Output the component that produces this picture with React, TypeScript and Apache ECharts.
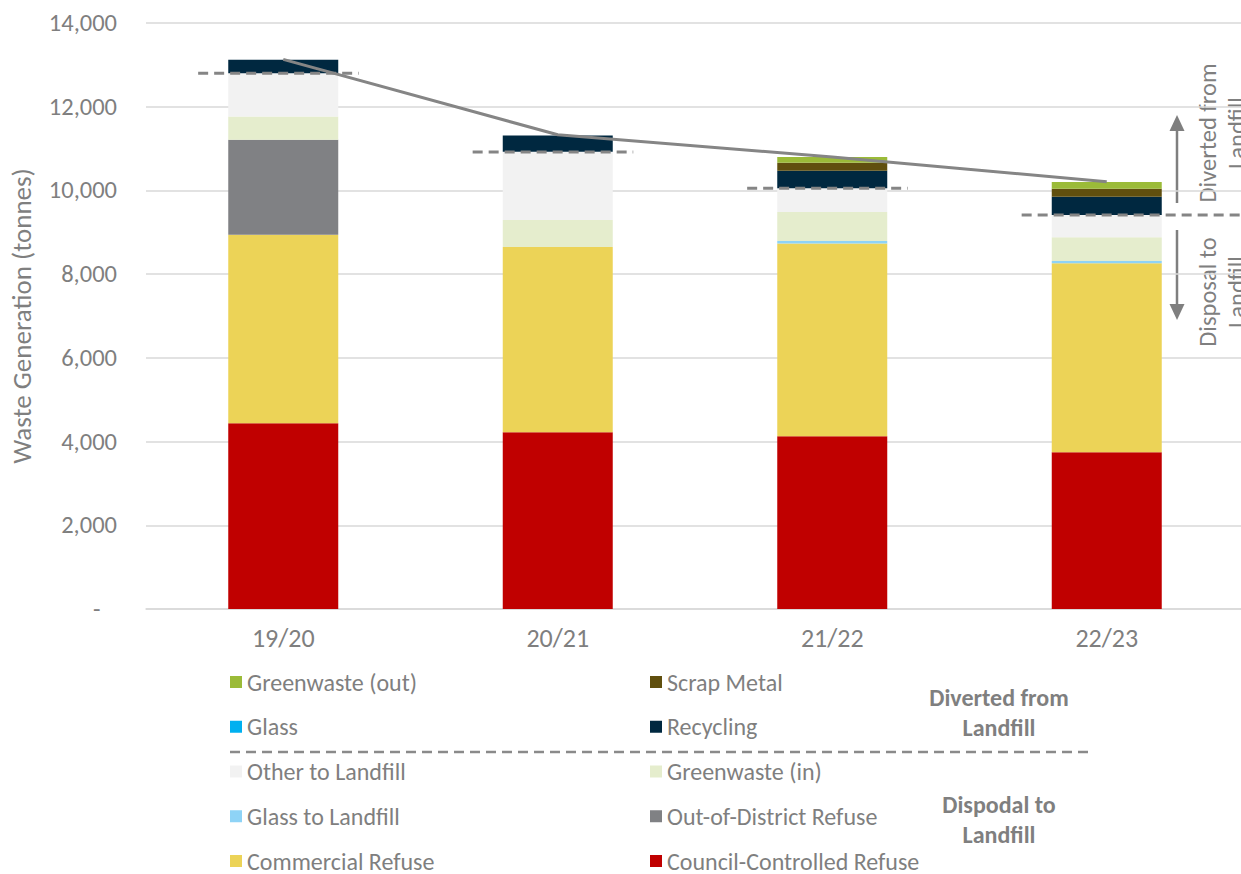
import React, { useEffect, useRef } from "react";
import * as echarts from "echarts";

const years = ["19/20", "20/21", "21/22", "22/23"];
const councilRefuse = [4440, 4220, 4130, 3745];
const commercialRefuse = [4500, 4430, 4605, 4515];
const outOfDistrict = [2270, 0, 0, 0];
const glassToLandfill = [0, 0, 55, 55];
const greenwasteIn = [555, 645, 692, 565];
const otherToLandfill = [1035, 1630, 570, 533];
const recycling = [320, 385, 420, 437];
const glassOut = [0, 0, 0, 0];
const scrapMetal = [0, 0, 190, 191];
const greenwasteOut = [0, 0, 135, 160];
const totalGeneration = [13130, 11330, 10800, 10210];
const landfillTotal = [12800, 10920, 10050, 9413];

const leftLegend = ["Greenwaste (out)", "Glass", "Other to Landfill", "Glass to Landfill", "Commercial Refuse"];
const rightLegend = ["Scrap Metal", "Recycling", "Greenwaste (in)", "Out-of-District Refuse", "Council-Controlled Refuse"];

const FONT = "Carlito, 'Open Sans', sans-serif";
const GREY = "#7f7f7f";

export default function App() {
  const ref = useRef<HTMLDivElement>(null);
  useEffect(() => {
    if (!ref.current) return;
    const chart = echarts.init(ref.current, null, { renderer: "svg" });
    const stackDefs: [string, number[], string][] = [
      ["Council-Controlled Refuse", councilRefuse, "#C00000"],
      ["Commercial Refuse", commercialRefuse, "#ECD357"],
      ["Out-of-District Refuse", outOfDistrict, "#808184"],
      ["Glass to Landfill", glassToLandfill, "#8ED3F6"],
      ["Greenwaste (in)", greenwasteIn, "#E5EDCD"],
      ["Other to Landfill", otherToLandfill, "#F2F2F2"],
      ["Recycling", recycling, "#002840"],
      ["Glass", glassOut, "#00B0F0"],
      ["Scrap Metal", scrapMetal, "#604F0E"],
      ["Greenwaste (out)", greenwasteOut, "#9BBB38"],
    ];
    const barSeries = stackDefs.map(([name, data, color]) => ({
      name,
      type: "bar",
      stack: "waste",
      data,
      barWidth: 110,
      itemStyle: { color },
      emphasis: { disabled: true },
    }));
    const legendCommon = {
      orient: "vertical",
      top: 670,
      padding: 0,
      icon: "rect",
      itemWidth: 12,
      itemHeight: 12,
      itemGap: 20.75,
      selectedMode: false,
      textStyle: { fontFamily: FONT, fontSize: 24, color: GREY, lineHeight: 24 },
    };
    chart.setOption({
      animation: false,
      textStyle: { fontFamily: FONT },
      grid: { left: 146, top: 23, width: 1098, bottom: 265, containLabel: false, outerBoundsMode: "none" },
      xAxis: {
        type: "category",
        data: years,
        axisLine: { lineStyle: { color: "#D9D9D9", width: 1.5 } },
        axisTick: { show: false },
        axisLabel: { color: GREY, fontSize: 26, fontFamily: FONT, margin: 16 },
      },
      yAxis: {
        type: "value",
        min: 0,
        max: 14000,
        interval: 2000,
        name: "Waste Generation (tonnes)",
        nameLocation: "middle",
        nameGap: 111,
        nameTextStyle: { color: GREY, fontSize: 27, fontFamily: FONT },
        axisLabel: {
          color: GREY,
          fontSize: 24.5,
          fontFamily: FONT,
          margin: 29,
          formatter: (v: number) => (v === 0 ? "-   " : v.toLocaleString("en-US")),
        },
        splitLine: { lineStyle: { color: "#D9D9D9", width: 1.5 } },
      },
      legend: [
        { ...legendCommon, left: 230, data: leftLegend },
        { ...legendCommon, left: 650, data: rightLegend },
      ],
      series: [
        ...barSeries,
        {
          name: "Total",
          type: "line",
          data: totalGeneration,
          symbol: "none",
          z: 5,
          lineStyle: { color: "#858585", width: 3 },
          emphasis: { disabled: true },
        },
        {
          name: "Landfill",
          type: "custom",
          z: 6,
          data: landfillTotal.map((v, i) => [i, v]),
          renderItem: (params: any, api: any) => {
            const idx = api.value(0);
            const pt = api.coord([idx, api.value(1)]);
            const band = api.size([1, 0])[0];
            const cs = params.coordSys;
            const x1 = pt[0] - band * 0.31;
            const x2 = idx === landfillTotal.length - 1 ? cs.x + cs.width : pt[0] + band * 0.275;
            return {
              type: "line",
              shape: { x1, y1: pt[1], x2, y2: pt[1] },
              style: { stroke: "#858585", lineWidth: 3, lineDash: [10, 6] },
            };
          },
        },
      ],
      graphic: [
        {
          type: "text",
          x: 1222,
          y: 133,
          rotation: Math.PI / 2,
          style: {
            text: "Diverted from\nLandfill",
            fill: GREY,
            font: `24.5px ${FONT}`,
            lineHeight: 29,
            align: "center",
            verticalAlign: "middle",
          },
        },
        {
          type: "text",
          x: 1222,
          y: 292,
          rotation: Math.PI / 2,
          style: {
            text: "Disposal to\nLandfill",
            fill: GREY,
            font: `24.5px ${FONT}`,
            lineHeight: 29,
            align: "center",
            verticalAlign: "middle",
          },
        },
        { type: "line", shape: { x1: 1177, y1: 130, x2: 1177, y2: 203 }, style: { stroke: GREY, lineWidth: 2.5 } },
        { type: "polygon", shape: { points: [[1177, 115], [1169.5, 131], [1184.5, 131]] }, style: { fill: GREY } },
        { type: "line", shape: { x1: 1177, y1: 230, x2: 1177, y2: 305 }, style: { stroke: GREY, lineWidth: 2.5 } },
        { type: "polygon", shape: { points: [[1169.5, 304], [1184.5, 304], [1177, 320]] }, style: { fill: GREY } },
        {
          type: "line",
          shape: { x1: 230, y1: 752, x2: 1093, y2: 752 },
          style: { stroke: "#8a8a8a", lineWidth: 2.5, lineDash: [10, 6] },
        },
        {
          type: "text",
          x: 999,
          y: 712,
          style: {
            text: "Diverted from\nLandfill",
            fill: GREY,
            font: `bold 24px ${FONT}`,
            lineHeight: 30,
            align: "center",
            verticalAlign: "middle",
          },
        },
        {
          type: "text",
          x: 999,
          y: 819,
          style: {
            text: "Dispodal to\nLandfill",
            fill: GREY,
            font: `bold 24px ${FONT}`,
            lineHeight: 30,
            align: "center",
            verticalAlign: "middle",
          },
        },
      ],
    });
    return () => chart.dispose();
  }, []);
  return <div ref={ref} style={{ position: "fixed", left: 0, top: 0, width: 1241, height: 874, background: "#fff" }} />;
}
